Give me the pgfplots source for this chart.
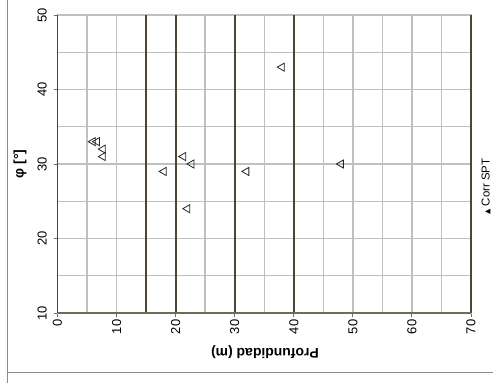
\documentclass[border=0pt]{standalone}
\usepackage{fontspec}
\setmainfont{Liberation Sans}
\newfontfamily\symfont{DejaVu Sans}
\usepackage{pgfplots}
\pgfplotsset{compat=1.18}
\definecolor{gridgray}{RGB}{192,192,192}
\definecolor{darkline}{RGB}{78,70,48}
\definecolor{axisdark}{RGB}{110,106,92}
\definecolor{framegray}{RGB}{140,140,140}

\begin{document}
\begin{tikzpicture}[x=1bp,y=1bp]
\useasboundingbox (0,0) rectangle (493,383);
% outer frame of the chart area
\draw[framegray, line width=1bp] (7,383) -- (7,0);
\draw[framegray, line width=1bp] (7,11) -- (493,11);
\begin{axis}[
  at={(57.5bp,70bp)}, anchor=south west,
  scale only axis, width=413.5bp, height=298bp,
  xmin=0, xmax=70, ymin=10, ymax=50,
  xtick={0,10,...,70}, ytick={10,20,...,50},
  minor xtick={5,15,...,65}, minor ytick={15,25,...,45},
  tick pos=left,
  grid=both,
  major grid style={draw=gridgray, line width=1.4bp},
  minor grid style={draw=gridgray, line width=1.4bp},
  axis line style={draw=gridgray, line width=1.4bp},
  tick align=outside, major tick length=4bp, minor tick length=0pt,
  major tick style={draw=axisdark, line width=0.9bp},
  /pgf/number format/assume math mode=true,
  xticklabel style={rotate=90, anchor=east, inner sep=2.5bp, font=\fontsize{13}{15}\selectfont},
  yticklabel style={rotate=90, anchor=south, inner sep=6.5bp, font=\fontsize{13}{15}\selectfont},
  clip=false,
]
% heavy reference lines
\addplot[darkline, line width=1.8bp, forget plot] coordinates {(0,10) (0,50)};
\addplot[darkline, line width=1.8bp, forget plot] coordinates {(15,10) (15,50)};
\addplot[darkline, line width=1.8bp, forget plot] coordinates {(20,10) (20,50)};
\addplot[darkline, line width=1.8bp, forget plot] coordinates {(30,10) (30,50)};
\addplot[darkline, line width=1.8bp, forget plot] coordinates {(40,10) (40,50)};
\addplot[darkline, line width=1.8bp, forget plot] coordinates {(70,10) (70,50)};
\addplot[axisdark, line width=1.3bp, forget plot] coordinates {(0,10) (70,10)};
% Corr SPT
\addplot[only marks, mark=triangle, mark size=4.7pt,
  mark options={rotate=90, draw=black!85, fill=white, line width=0.8bp}]
  coordinates {
  (6.0,33) (6.7,33) (7.7,32) (7.7,31)
  (18,29) (21.3,31) (22.7,30) (22,24)
  (32,29) (38,43) (48,30)
};
\end{axis}
\node[rotate=90, font=\bfseries\fontsize{14}{16}\selectfont] at (20,219) {φ [°]};
\node[rotate=180, font=\bfseries\fontsize{14}{16}\selectfont] at (265,31) {Profundidad (m)};
\node[rotate=90, anchor=west, inner sep=0pt, font=\fontsize{11.5}{13}\selectfont] at (486,168)
  {{\symfont\fontsize{7}{7}\selectfont ▲} Corr SPT};
\end{tikzpicture}
\end{document}
